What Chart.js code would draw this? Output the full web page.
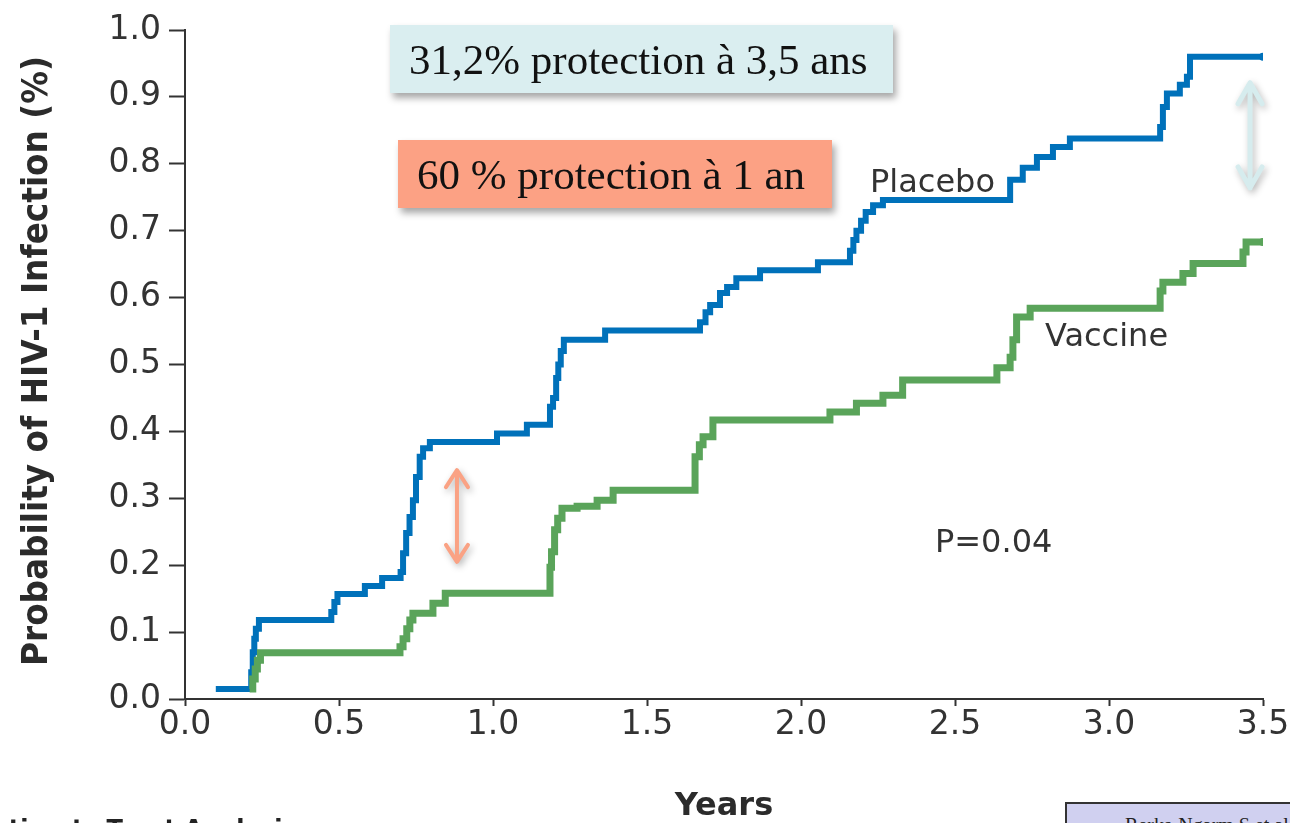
<!DOCTYPE html>
<html><head><meta charset="utf-8">
<script src="https://cdn.jsdelivr.net/npm/chart.js@4.4.1/dist/chart.umd.min.js"></script>
<style>
html,body{margin:0;padding:0;background:#fff;}
#wrap{position:relative;width:1290px;height:823px;overflow:hidden;background:#fff;}
canvas{position:absolute;left:0;top:0;}
.box{position:absolute;font-family:"Liberation Serif","Times New Roman",serif;color:#111;box-shadow:3px 5px 7px rgba(0,0,0,0.35);white-space:nowrap;box-sizing:border-box;}
.lbl{position:absolute;font-family:"DejaVu Sans",sans-serif;color:#333;white-space:nowrap;line-height:1;font-size:32px;}
</style></head><body>
<div id="wrap">
<canvas id="c" width="1290" height="823"></canvas>
<div class="box" style="left:390px;top:25px;width:503px;height:68px;background:#daeef0;font-size:43px;line-height:70px;padding-left:19px;">31,2% protection à 3,5 ans</div>
<div class="box" style="left:398px;top:140px;width:434px;height:68px;background:#fca184;font-size:43px;line-height:70px;padding-left:19px;">60 % protection à 1 an</div>
<div class="lbl" style="left:870px;top:165px;">Placebo</div>
<div class="lbl" style="left:1045px;top:319px;">Vaccine</div>
<div class="lbl" style="left:935px;top:525px;">P=0.04</div>
<div class="lbl" style="left:-62px;top:817px;font-weight:bold;font-size:24px;color:#222;">Intention-to-Treat Analysis</div>
<div style="position:absolute;left:1065px;top:802px;width:260px;height:60px;background:#d0d0f0;border-left:2px solid #333;border-top:2px solid #333;box-sizing:border-box;">
  <div style="position:absolute;left:58px;top:10px;font-family:'Liberation Serif',serif;font-size:20px;color:#222;white-space:nowrap;">Rerks-Ngarm S et al.</div>
</div>
</div>
<script>
// ---- data ----
const placeboX = [0.10,0.215,0.22,0.225,0.23,0.24,0.475,0.485,0.495,0.584,0.64,0.70,0.708,0.718,0.729,0.74,0.75,0.762,0.773,0.795,1.013,1.11,1.185,1.195,1.205,1.212,1.22,1.23,1.364,1.672,1.69,1.705,1.737,1.76,1.79,1.867,2.055,2.159,2.17,2.18,2.195,2.21,2.234,2.266,2.679,2.72,2.766,2.818,2.873,3.166,3.175,3.188,3.23,3.253,3.263,3.5];
const placeboY = [0.015,0.04,0.07,0.09,0.105,0.118,0.13,0.145,0.157,0.169,0.181,0.19,0.218,0.248,0.272,0.297,0.332,0.362,0.375,0.384,0.397,0.41,0.437,0.45,0.48,0.50,0.52,0.537,0.551,0.563,0.578,0.589,0.607,0.616,0.629,0.641,0.653,0.67,0.686,0.70,0.715,0.728,0.738,0.746,0.776,0.794,0.81,0.825,0.838,0.855,0.885,0.905,0.918,0.93,0.96,0.96];
const vaccineX = [0.21,0.22,0.228,0.235,0.245,0.698,0.708,0.72,0.73,0.74,0.805,0.845,1.185,1.19,1.2,1.21,1.224,1.273,1.338,1.39,1.656,1.67,1.682,1.714,2.094,2.18,2.266,2.33,2.636,2.679,2.688,2.70,2.744,3.166,3.175,3.24,3.273,3.435,3.445,3.5];
const vaccineY = [0.015,0.03,0.045,0.058,0.069,0.078,0.09,0.105,0.118,0.128,0.143,0.158,0.197,0.22,0.253,0.27,0.285,0.288,0.297,0.312,0.362,0.38,0.392,0.417,0.429,0.442,0.454,0.477,0.495,0.511,0.537,0.571,0.584,0.61,0.623,0.636,0.651,0.668,0.683,0.683];
const xTickValues = [0,0.5,1,1.5,2,2.5,3,3.5];
const xTickLabels = ['0.0','0.5','1.0','1.5','2.0','2.5','3.0','3.5'];
const yTickValues = [0,0.1,0.2,0.3,0.4,0.5,0.6,0.7,0.8,0.9,1.0];
const yTickLabels = ['0.0','0.1','0.2','0.3','0.4','0.5','0.6','0.7','0.8','0.9','1.0'];
const seriesNames = ['Vaccine','Placebo'];
const xTitle = 'Years';
const yTitle = 'Probability of HIV-1 Infection (%)';
// arrows: [x, yTop, yBottom] in data units
const arrowSalmon = [0.883, 0.342, 0.205];
const arrowCyan = [3.458, 0.921, 0.764];

const BLUE = 'rgb(0,113,186)';
const GREEN = 'rgb(90,164,90)';

function pts(xs, ys){ return xs.map((x,i)=>({x:x, y:ys[i]})); }
function endDot(n){ return ctx => ctx.dataIndex === n-1 ? 4 : 0; }

function drawArrow(ctx, x, y1, y2, color, lw, hw, hl){
  ctx.save();
  ctx.strokeStyle=color; ctx.lineWidth=lw; ctx.lineCap='round'; ctx.lineJoin='round';
  ctx.shadowColor='rgba(0,0,0,0.28)'; ctx.shadowBlur=7; ctx.shadowOffsetX=2; ctx.shadowOffsetY=3;
  ctx.beginPath();
  ctx.moveTo(x,y1); ctx.lineTo(x,y2);
  ctx.moveTo(x-hw,y1+hl); ctx.lineTo(x,y1); ctx.lineTo(x+hw,y1+hl);
  ctx.moveTo(x-hw,y2-hl); ctx.lineTo(x,y2); ctx.lineTo(x+hw,y2-hl);
  ctx.stroke();
  ctx.restore();
}

const extras = {
  id:'extras',
  afterDraw(chart){
    const ctx = chart.ctx, xs = chart.scales.x, ys = chart.scales.y;
    drawArrow(ctx, xs.getPixelForValue(arrowSalmon[0]), ys.getPixelForValue(arrowSalmon[1]), ys.getPixelForValue(arrowSalmon[2]), 'rgb(250,162,132)', 4, 11, 17);
    drawArrow(ctx, xs.getPixelForValue(arrowCyan[0]), ys.getPixelForValue(arrowCyan[1]), ys.getPixelForValue(arrowCyan[2]), 'rgb(214,236,238)', 5, 12, 21);
    // y title, condensed to fit
    ctx.save();
    ctx.font = 'bold 35px "DejaVu Sans"';
    ctx.fillStyle = '#2b2b2b';
    const w = ctx.measureText(yTitle).width;
    ctx.translate(47, 361);
    ctx.rotate(-Math.PI/2);
    ctx.scale(610/w, 1);
    ctx.textAlign='center'; ctx.textBaseline='alphabetic';
    ctx.fillText(yTitle, 0, 0);
    ctx.restore();
  }
};

new Chart(document.getElementById('c'), {
  type:'line',
  data:{ datasets:[
    { label:seriesNames[0], data:pts(vaccineX,vaccineY), borderColor:GREEN, backgroundColor:GREEN, borderWidth:7, stepped:'before', pointRadius:endDot(vaccineX.length), pointBackgroundColor:GREEN, pointBorderWidth:0, borderCapStyle:'butt', borderJoinStyle:'miter', fill:false },
    { label:seriesNames[1], data:pts(placeboX,placeboY), borderColor:BLUE, backgroundColor:BLUE, borderWidth:6, stepped:'before', pointRadius:endDot(placeboX.length), pointBackgroundColor:BLUE, pointBorderWidth:0, borderCapStyle:'butt', borderJoinStyle:'miter', fill:false }
  ]},
  options:{
    responsive:false, animation:false, devicePixelRatio:1,
    layout:{ padding:{ left:0, right:27, top:30, bottom:0 } },
    plugins:{ legend:{display:false}, tooltip:{enabled:false} },
    scales:{
      x:{ type:'linear', min:0, max:3.5,
        afterBuildTicks: s => { s.ticks = xTickValues.map(v=>({value:v})); },
        afterFit: s => { s.height = 124; },
        ticks:{ callback:(v,i)=>xTickLabels[i], color:'#333', font:{family:'"DejaVu Sans"', size:33}, padding:0, maxRotation:0, autoSkip:false },
        grid:{ drawOnChartArea:false, drawTicks:true, tickLength:7, tickWidth:2, color:'#333' },
        border:{ display:true, color:'#333', width:2 },
        title:{ display:true, text:xTitle, color:'#2b2b2b', font:{family:'"DejaVu Sans"', size:32, weight:'bold', lineHeight:1}, padding:{top:0,bottom:0} }
      },
      y:{ type:'linear', min:0, max:1,
        afterBuildTicks: s => { s.ticks = yTickValues.map(v=>({value:v})); },
        afterFit: s => { s.width = 185; },
        ticks:{ callback:(v,i)=>yTickLabels[i], color:'#333', font:{family:'"DejaVu Sans"', size:33}, padding:8, autoSkip:false },
        grid:{ drawOnChartArea:false, drawTicks:true, tickLength:16, tickWidth:2, color:'#333' },
        border:{ display:true, color:'#333', width:2 }
      }
    }
  },
  plugins:[extras]
});
</script>
</body></html>
